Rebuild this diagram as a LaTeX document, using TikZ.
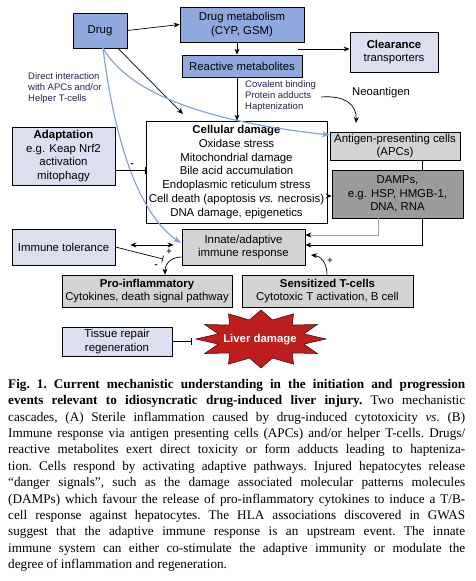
\documentclass[tikz,border=0pt]{standalone}
\usepackage{fontspec}
\setmainfont{Liberation Serif}
\setsansfont{Liberation Sans}
\usetikzlibrary{arrows.meta,backgrounds,calc}
\definecolor{drugblue}{RGB}{143,168,222}
\definecolor{lav}{RGB}{220,223,240}
\definecolor{lgray}{RGB}{211,211,211}
\definecolor{dgray}{RGB}{155,155,155}
\definecolor{curveblue}{RGB}{135,160,225}
\definecolor{livred}{RGB}{190,30,30}
\definecolor{navy}{RGB}{35,35,80}
\definecolor{linegray}{RGB}{160,160,160}
\begin{document}
\begin{tikzpicture}[x=1pt,y=-1pt,
  box/.style={draw=black,line width=0.8pt,inner sep=0pt,align=center,font=\sffamily\fontsize{11.4}{13.7}\selectfont},
  bluebox/.style={box,fill=drugblue},
  lavbox/.style={box,fill=lav},
  graybox/.style={box,fill=lgray},
  darkbox/.style={box,fill=dgray},
  arr/.style={line width=0.7pt,-{Stealth[length=6pt,width=5pt]}},
  grayarr/.style={linegray,line width=0.9pt,-{Stealth[length=6pt,width=5pt,color=black]}},
  dblarr/.style={line width=0.7pt,{Stealth[length=6pt,width=5pt]}-{Stealth[length=6pt,width=5pt]}},
  inh/.style={line width=0.7pt,-{Bar[width=7pt]}},
  bluearr/.style={curveblue,line width=1.2pt,-{Stealth[length=8pt,width=6pt]}},
  small/.style={font=\sffamily\fontsize{9.5}{11}\selectfont,text=navy,align=left,inner sep=0pt},
  sign/.style={font=\sffamily\bfseries\fontsize{9}{10}\selectfont,inner sep=0pt},
]
\useasboundingbox (0,0) rectangle (476,581);

% nodes
\node[bluebox,minimum width=54pt,minimum height=35pt] (drug) at (100,30.5) {Drug};
\node[bluebox,minimum width=124pt,minimum height=35pt] (metab) at (242,24.5) {Drug metabolism\\(CYP, GSM)};
\node[bluebox,minimum width=120pt,minimum height=22pt] (react) at (242,66) {Reactive metabolites};
\node[lavbox,minimum width=88pt,minimum height=40pt] (clear) at (394,52) {\textbf{Clearance}\\transporters};
\node[box,fill=white,minimum width=181pt,minimum height=102pt] (cell) at (236.5,172)
  {\textbf{Cellular damage}\\Oxidase stress\\Mitochondrial damage\\Bile acid accumulation\\Endoplasmic reticulum stress\\Cell death (apoptosis \textit{vs.} necrosis)\\DNA damage, epigenetics};
\node[lavbox,minimum width=103pt,minimum height=58pt] (adapt) at (63.5,156) {\textbf{Adaptation}\\e.g. Keap Nrf2\\activation\\mitophagy};
\node[graybox,minimum width=130pt,minimum height=28pt] (apc) at (395,146) {Antigen-presenting cells\\(APCs)};
\node[darkbox,minimum width=131pt,minimum height=48pt] (damps) at (397.5,194) {DAMPs,\\e.g. HSP, HMGB-1,\\DNA, RNA};
\node[graybox,minimum width=123pt,minimum height=36pt] (innate) at (243.5,247) {Innate/adaptive\\immune response};
\node[lavbox,minimum width=103pt,minimum height=36pt] (tol) at (63.5,247) {Immune tolerance};
\node[graybox,minimum width=170pt,minimum height=32pt] (proinf) at (147,291) {\textbf{Pro-inflammatory}\\Cytokines, death signal pathway};
\node[graybox,minimum width=171pt,minimum height=32pt] (sens) at (327.5,291) {\textbf{Sensitized T-cells}\\Cytotoxic T activation, B cell};
\node[lavbox,minimum width=110pt,minimum height=29pt] (tissue) at (117,341.5) {Tissue repair\\regeneration};

% star
\begin{scope}[shift={(261,339)},xscale=65,yscale=29]
\filldraw[fill=livred,draw=black!60!livred,line width=0.6pt] (0:1) \foreach \a in {0,30,...,330}{ -- (\a+15:0.68) -- (\a+30:1)} -- cycle;
\end{scope}
\node[font=\sffamily\bfseries\fontsize{11.4}{13}\selectfont,text=white,inner sep=0pt] (liver) at (260,340) {Liver damage};

% labels
\node[small,anchor=north west] (direct) at (28,72) {Direct interaction\\with APCs and/or\\Helper T-cells};
\node[small,anchor=north west] (cov) at (245,80) {Covalent binding\\Protein adducts\\Haptenization};
\node[font=\sffamily\fontsize{11.3}{13}\selectfont,anchor=west,inner sep=0pt] (neo) at (352,93) {Neoantigen};

% coordinates
\coordinate (colx) at (237,0);
\coordinate (clrS) at (298,49);
\coordinate (dA) at (118,0);
\coordinate (dB) at (183,114);
\coordinate (neoS) at (321,97);
\coordinate (neoE) at (356,123);
\coordinate (b0) at (103,48);
\coordinate (apcin) at (330,135);
\coordinate (innin) at (181,243);
\coordinate (ay) at (0,170);
\coordinate (dy) at (0,196);
\coordinate (lx) at (422,0);
\coordinate (ly) at (0,245);
\coordinate (gx) at (378,0);
\coordinate (gy) at (0,235);
\coordinate (tinh) at (163,259);
\coordinate (px) at (165,0);
\coordinate (iy) at (0,257);
\coordinate (sx) at (327,0);
\coordinate (sE) at (311,255);
\coordinate (tE) at (192,0);

% connectors
\draw[arr] (drug.east) -- (metab.west);
\draw[arr] (metab.south -| colx) -- (react.north -| colx);
\draw[arr] (react.south -| colx) -- (cell.north -| colx);
\draw[arr] (clrS) -- (clear.west |- clrS);
\draw[arr] (drug.south -| dA) -- (dB);
\draw[arr] (neoS) .. controls (345,95) and (357,105) .. (neoE);
\draw[bluearr] (b0) .. controls (130,95) and (210,122) .. (apcin);
\draw[bluearr] (b0) .. controls (115,145) and (140,215) .. (innin);
\draw[inh] (adapt.east |- ay) -- (cell.west |- ay);
\node[sign] (m1) at (132,165) {-};
\draw[arr] (cell.east |- dy) -- (damps.west |- dy);
\begin{pgfonlayer}{background}
\draw[arr] (apc.south -| lx) |- (innate.east |- ly);
\end{pgfonlayer}
\draw[grayarr] (damps.south -| gx) |- (innate.east |- gy);
\draw[dblarr,shorten <=15pt,shorten >=8pt] ([yshift=2pt]tol.east) -- ([yshift=2pt]innate.west);
\draw[inh] (tol.east) -- (tinh);
\draw[arr] (innate.west |- iy) .. controls (172,257) and (165,263) .. (proinf.north -| px);
\node[sign,text=navy] (p1) at (169,252) {+};
\node[sign] (m2) at (156,266) {-};
\draw[arr] (sens.north -| sx) .. controls (327,262) and (320,256) .. (sE);
\node[sign,text=navy] (p2) at (330,261) {+};
\draw[inh] (tissue.east) -- (tissue.east -| tE);

% caption
\node[anchor=north west,inner sep=0pt,text width=457pt,align=justify,font=\rmfamily\fontsize{13.2}{16.4}\selectfont] (cap) at (8,379) {\frenchspacing\noindent\textbf{Fig. 1. Current mechanistic understanding in the initiation and progression\linebreak events relevant to idiosyncratic drug-induced liver injury.} Two mechanistic\linebreak cascades, (A) Sterile inflammation caused by drug-induced cytotoxicity \textit{vs.} (B)\linebreak Immune response via antigen presenting cells (APCs) and/or helper T-cells. Drugs/\linebreak reactive metabolites exert direct toxicity or form adducts leading to hapteniza-\linebreak tion. Cells respond by activating adaptive pathways. Injured hepatocytes release\linebreak ``danger signals'', such as the damage associated molecular patterns molecules\linebreak (DAMPs) which favour the release of pro-inflammatory cytokines to induce a T/B-\linebreak cell response against hepatocytes. The HLA associations discovered in GWAS\linebreak suggest that the adaptive immune response is an upstream event. The innate\linebreak immune system can either co-stimulate the adaptive immunity or modulate the\linebreak degree of inflammation and regeneration.};
\end{tikzpicture}
\end{document}
